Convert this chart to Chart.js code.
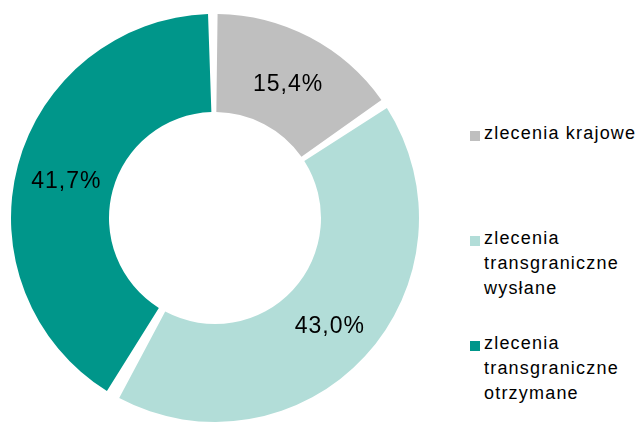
<!DOCTYPE html>
<html>
<head>
<meta charset="utf-8">
<script src="https://cdn.jsdelivr.net/npm/chart.js@4"></script>
<style>
  body { margin: 0; background: #fff; font-family: Arial, "Liberation Sans", sans-serif; }
  #wrap { position: relative; width: 643px; height: 424px; }
  #chartBox { position: absolute; left: 0; top: 0; width: 430px; height: 424px; }
  #legend { position: absolute; left: 470px; top: 0; width: 173px; }
  .item { position: absolute; left: 0; display: flex; align-items: flex-start; font-size: 18px; line-height: 25px; letter-spacing: 1.2px; color: #000; white-space: nowrap; }
  .box { width: 10px; height: 10px; margin-top: 10px; margin-right: 4px; flex: none; }
</style>
</head>
<body>
<div id="wrap">
  <div id="chartBox"><canvas id="chart"></canvas></div>
  <div id="legend"></div>
</div>
<script>
// Data
const labels = [['zlecenia krajowe'], ['zlecenia', 'transgraniczne', 'wysłane'], ['zlecenia', 'transgraniczne', 'otrzymane']];
const values = [15.4, 43.0, 41.7];
const colors = ['#BFBFBF', '#B2DDD8', '#00968A'];
const legendTops = [121, 226, 331];

// Legend (HTML, multi-line labels)
const legend = document.getElementById('legend');
labels.forEach((lines, i) => {
    const item = document.createElement('div');
    item.className = 'item';
    item.style.top = legendTops[i] + 'px';
    const box = document.createElement('span');
    box.className = 'box';
    box.style.background = colors[i];
    const text = document.createElement('span');
    text.innerHTML = lines.join('<br>');
    item.appendChild(box);
    item.appendChild(text);
    legend.appendChild(item);
});

// Percentage labels on the slices
const sliceLabels = {
    id: 'sliceLabels',
    afterDatasetsDraw(chart) {
        const ctx = chart.ctx;
        const meta = chart.getDatasetMeta(0);
        ctx.save();
        ctx.font = '23px Arial, "Liberation Sans", sans-serif';
        ctx.letterSpacing = '1px';
        ctx.fillStyle = '#000';
        ctx.textAlign = 'center';
        ctx.textBaseline = 'middle';
        meta.data.forEach((arc, i) => {
            const p = arc.tooltipPosition();
            ctx.fillText(values[i].toFixed(1).replace('.', ',') + '%', p.x + 1, p.y + 4);
        });
        ctx.restore();
    }
};

new Chart(document.getElementById('chart'), {
    type: 'doughnut',
    data: {
        labels: labels.map(l => l.join(' ')),
        datasets: [{
            data: values,
            backgroundColor: colors,
            borderWidth: 0,
            spacing: 8
        }]
    },
    options: {
        responsive: true,
        maintainAspectRatio: false,
        animation: false,
        cutout: '51%',
        layout: { padding: { top: 14, bottom: 2, left: 11, right: 11 } },
        plugins: {
            legend: { display: false },
            tooltip: { enabled: false }
        }
    },
    plugins: [sliceLabels]
});
</script>
</body>
</html>
